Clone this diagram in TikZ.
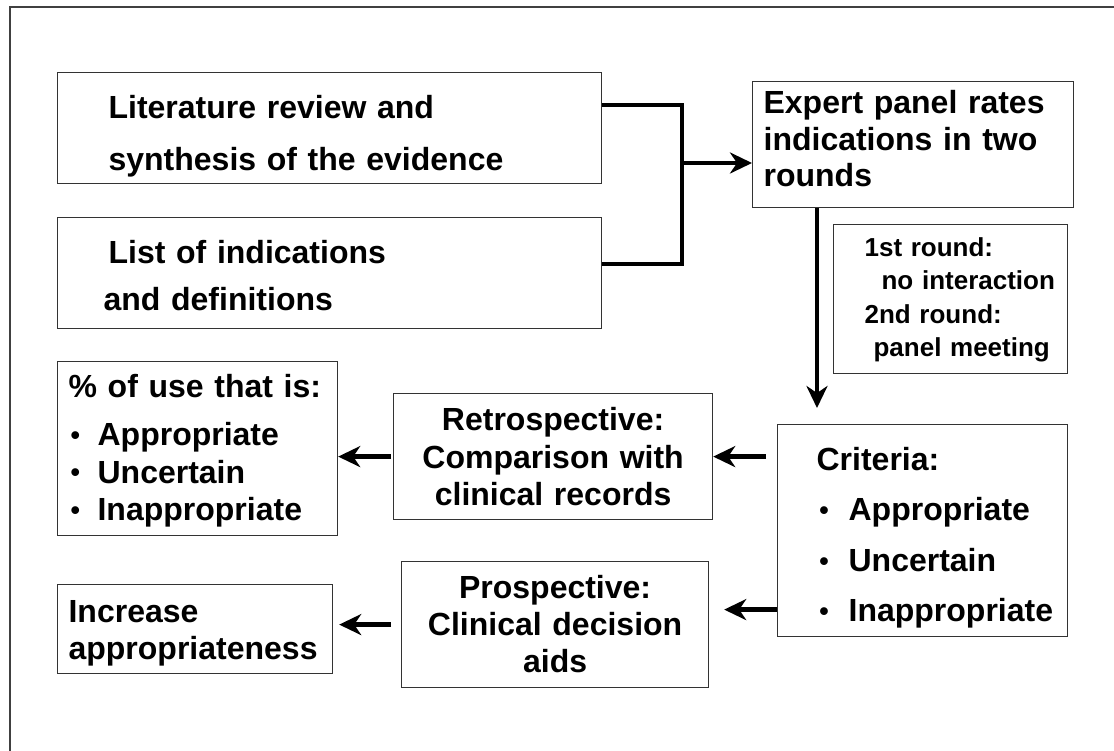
\documentclass[tikz,border=0pt]{standalone}
\usepackage{fontspec}
\setmainfont{Liberation Sans}
\usepackage{tikz}
\usetikzlibrary{arrows.meta,calc,positioning}
\tikzset{
  box/.style={draw=black!80, line width=1.2pt, anchor=north west, inner ysep=0pt, align=left},
  bigtxt/.style={font=\bfseries\fontsize{32}{#1}\selectfont},   % #1 = line skip
  smalltxt/.style={font=\bfseries\fontsize{26}{33.3}\selectfont},
  thickArrow/.style={-{Stealth[length=22pt,width=21pt,inset=7pt]}, line width=4.6pt},
  bracketLine/.style={line width=4.6pt},
  frameLine/.style={draw=black!75, line width=2pt}
}
% bullet item: #1 = indent, #2 = bullet box width
\newcommand{\DotItem}[2]{\hspace*{#1}\makebox[#2][l]{\raisebox{1.2pt}{\fontsize{27}{27}\selectfont\textbullet}}}

\begin{document}
\begin{tikzpicture}[x=1pt, y=-1pt]
  \useasboundingbox (0,0) rectangle (1114,751);
  % outer frame (only top and left edges show)
  \draw[frameLine] (9.5,751) |- (1114,7.5);

  % input boxes
  \node[box, bigtxt=52, text width=442pt, inner xsep=51pt, text height=46pt, text depth=65pt]
    (litbox) at (57,72) {Literature review and\\synthesis of the evidence};
  \node[box, bigtxt=47, text width=452pt, inner xsep=46pt, text height=46pt, text depth=65pt]
    (indbox) at (57,217) {\hspace*{5pt}List of indications\\and definitions};

  % expert panel
  \node[box, bigtxt=36.5, text width=299pt, inner xsep=11pt, text height=32pt, text depth=94pt]
    (panelbox) at (752,81) {Expert panel rates\\indications in two\\rounds};
  \node[box, smalltxt, text width=218pt, inner xsep=8pt, text height=32pt, text depth=117pt]
    (roundbox) at (833,224) {\hspace*{23pt}1st round:\\\hspace*{40pt}no interaction\\
      \hspace*{23pt}2nd round:\\\hspace*{32pt}panel meeting};

  % criteria
  \node[box, bigtxt=50.3, text width=270pt, inner xsep=10pt, text height=46pt, text depth=166pt]
    (critbox) at (777,424) {\hspace*{29pt}Criteria:\\
      \DotItem{31.8pt}{29.2pt}Appropriate\\
      \DotItem{31.8pt}{29.2pt}Uncertain\\
      \DotItem{31.8pt}{29.2pt}Inappropriate};

  % applications
  \node[box, bigtxt=37.5, align=center, text width=309pt, inner xsep=5pt, text height=37pt, text depth=89pt]
    (retrobox) at (393,393) {Retrospective:\\Comparison with\\clinical records};
  \node[box, bigtxt=37, align=center, text width=297pt, inner xsep=5pt, text height=37pt, text depth=89pt]
    (prospbox) at (401,561) {Prospective:\\Clinical decision\\aids};

  % results
  \node[box, bigtxt=37.5, text width=258pt, inner xsep=11pt, text height=36pt, text depth=138pt]
    (pctbox) at (57,361) {\% of use that is:\\[10.5pt]
      \DotItem{2pt}{27pt}Appropriate\\
      \DotItem{2pt}{27pt}Uncertain\\
      \DotItem{2pt}{27pt}Inappropriate};
  \node[box, bigtxt=37, text width=253pt, inner xsep=11pt, text height=38pt, text depth=51pt]
    (incrbox) at (57,584) {Increase\\appropriateness};

  % connectors
  \coordinate (join) at (682,163);
  \draw[bracketLine] ([yshift=-33pt]litbox.north east) -| (join) |- ([yshift=-47pt]indbox.north east);
  \draw[thickArrow] (join) -- (join -| panelbox.west);
  \draw[thickArrow] ([xshift=65pt]panelbox.south west) -- ([xshift=40pt,yshift=16pt]critbox.north west);
  \draw[thickArrow] ($(critbox.west |- retrobox.east)+(-11,0)$) -- (retrobox.east);
  \coordinate (prospTip) at ($(prospbox.east)+(15,-15)$);
  \draw[thickArrow] (critbox.west |- prospTip) -- (prospTip);
  \draw[thickArrow] ($(retrobox.west)+(-2,0)$) -- (retrobox.west -| pctbox.east);
  \draw[thickArrow] ($(prospbox.west)+(-10,0)$) -- ($(prospbox.west -| incrbox.east)+(6,0)$);
\end{tikzpicture}
\end{document}
